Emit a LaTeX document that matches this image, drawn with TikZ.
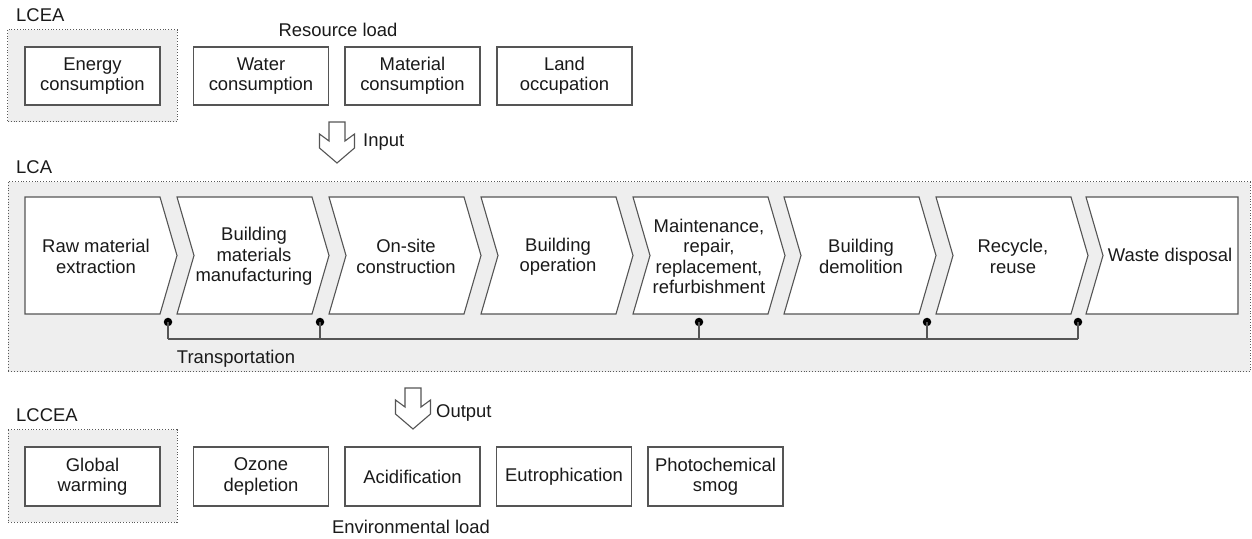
\documentclass[tikz,border=0pt]{standalone}
\usepackage{fontspec}
\setmainfont{Liberation Sans}
\definecolor{edge}{HTML}{555555}
\definecolor{panel}{HTML}{EEEEEE}
\definecolor{ink}{HTML}{1A1A1A}
\newcommand{\blockdown}[3]{% name, center x, top y
  \draw[hollow] (#2-8,#3) -- (#2+8,#3) -- (#2+8,#3+19) -- (#2+17.5,#3+12) -- (#2+17.5,#3+26)
    -- (#2,#3+41) -- (#2-17.5,#3+26) -- (#2-17.5,#3+12) -- (#2-8,#3+19) -- cycle;
  \coordinate (#1) at (#2,#3);}
\newcommand{\chevshape}[2]{% left x, kind: 0 first, 1 middle, 2 last
  \ifcase#2
    \draw[chev] (#1,197) -- (#1+135,197) -- (#1+152,255.5) -- (#1+135,314) -- (#1,314) -- cycle;
  \or
    \draw[chev] (#1,197) -- (#1+135,197) -- (#1+152,255.5) -- (#1+135,314) -- (#1,314) -- (#1+17,255.5) -- cycle;
  \or
    \draw[chev] (#1,197) -- (1238,197) -- (1238,314) -- (#1,314) -- (#1+17,255.5) -- cycle;
  \fi}
\tikzset{
  txt/.style={font=\fontsize{18.5}{20.5}\selectfont, align=center, text=ink, inner sep=0},
  box/.style={txt, draw=edge, line width=1.1bp, fill=white, minimum width=135bp, minimum height=58bp},
  frame/.style={draw=black!65, line width=1bp, dash pattern=on 1bp off 1.8bp, fill=panel},
  chev/.style={draw=edge, line width=1.1bp, fill=white},
  hollow/.style={draw=edge, line width=1.1bp, fill=white},
  link/.style={draw=edge, line width=1.1bp},
  dot/.style={circle, fill=black, inner sep=0, minimum size=8.5bp},
}
\begin{document}
\begin{tikzpicture}[x=1bp,y=-1bp]
\useasboundingbox[fill=white] (0,0) rectangle (1252,539);

% ---------- top: resource load ----------
\draw[frame] (7.5,30) rectangle (177,122);
\node[txt, anchor=west] (lcea) at (16,15) {LCEA};
\node[txt] (resload) at (338,30) {Resource load};
\node[box] (energy) at (92.5,76) {Energy\\consumption};
\node[box] (water) at (261,76) {Water\\consumption};
\node[box] (material) at (412.5,76) {Material\\consumption};
\node[box] (land) at (564.5,76) {Land\\occupation};

\blockdown{inarrow}{337}{122}
\node[txt, anchor=west] (input) at (363,142) {Input};

% ---------- middle: LCA ----------
\node[txt, anchor=west] (lca) at (16,167) {LCA};
\draw[frame] (8,182) rectangle (1250,372);

\chevshape{25}{0}
\chevshape{177}{1}
\chevshape{329}{1}
\chevshape{481}{1}
\chevshape{633}{1}
\chevshape{784}{1}
\chevshape{936}{1}
\chevshape{1086}{2}

\node[txt] (c1) at (96,256.5) {Raw material\\extraction};
\node[txt] (c2) at (254,256.5) {Building\\materials\\manufacturing};
\node[txt] (c3) at (406,256.5) {On-site\\construction};
\node[txt] (c4) at (558,256.5) {Building\\operation};
\node[txt] (c5) at (709,256.5) {Maintenance,\\repair,\\replacement,\\refurbishment};
\node[txt] (c6) at (861,256.5) {Building\\demolition};
\node[txt] (c7) at (1013,256.5) {Recycle,\\reuse};
\node[txt] (c8) at (1170,256.5) {Waste disposal};

% transportation
\node[dot] (d1) at (168,322) {};
\node[dot] (d2) at (320,322) {};
\node[dot] (d3) at (699,322) {};
\node[dot] (d4) at (927,322) {};
\node[dot] (d5) at (1078,322) {};
\foreach \i/\x in {1/168,2/320,3/699,4/927,5/1078}{
  \coordinate (b\i) at (\x,339);
  \draw[link] (d\i.center) -- (b\i);
}
\draw[link] (b1) -- (b5);
\node[txt] (transport) at (236,359) {Transportation};

% ---------- bottom: environmental load ----------
\blockdown{outarrow}{413}{388}
\node[txt, anchor=west] (output) at (436,413) {Output};

\node[txt, anchor=west] (lccea) at (16,415) {LCCEA};
\draw[frame] (8,430) rectangle (177,522);
\node[box, minimum height=59bp] (global) at (92.5,476.5) {Global\\warming};
\node[box, minimum height=59bp] (ozone) at (261,476.5) {Ozone\\depletion};
\node[box, minimum height=59bp] (acid) at (412.5,476.5) {Acidification};
\node[box, minimum height=59bp] (eutro) at (564,476.5) {Eutrophication};
\node[box, minimum height=59bp] (smog) at (715.5,476.5) {Photochemical\\smog};
\node[txt] (envload) at (411,527) {Environmental load};
\end{tikzpicture}
\end{document}
